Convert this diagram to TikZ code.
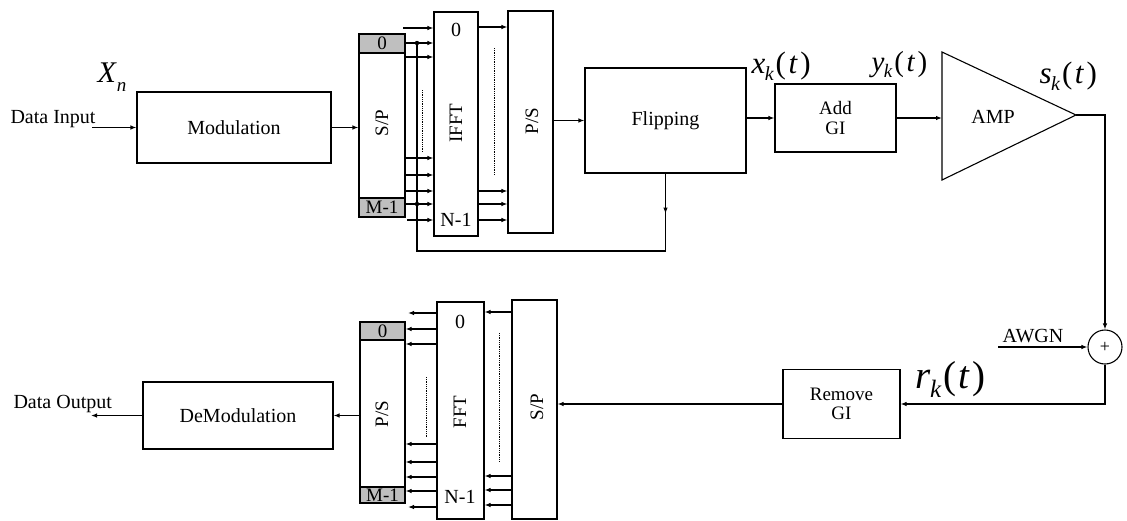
\documentclass[tikz,border=0pt]{standalone}
\usepackage{fontspec}
\setmainfont{Liberation Serif}
\usetikzlibrary{arrows.meta}
\newcommand\fsz[1]{\fontsize{#1}{#1}\selectfont}
\newcommand\sigl[5]{{\fsz{#1}\itshape #2\hspace{-0.5pt}\raisebox{-#5}{\fsz{#3}#4}\hspace{2pt}\upshape(\hspace{2.5pt}\itshape t\/\hspace{2.5pt}\upshape)}}
\begin{document}
\begin{tikzpicture}[x=1pt,y=-1pt,line width=1.1pt,
  blk/.style={draw,line width=1.1pt,inner sep=0pt,align=center,font={\fontsize{20}{20}\selectfont}},
  blk2/.style={blk,font={\fontsize{19}{19.5}\selectfont}},
  cell/.style={draw,line width=1.1pt,fill=gray!50,inner sep=0pt,font=\fsz{19}},
  arr/.style={-{Latex[length=6pt,width=4.5pt]}},
  dotl/.style={line width=0.8pt,densely dotted},
  txt/.style={inner sep=0pt,font=\fsz{20}},
  rot/.style={inner sep=0pt,font=\fsz{19},rotate=90}]
\useasboundingbox (0,0) rectangle (1127,520);
\fill[white] (0,0) rectangle (1127,520);

% ---------- transmitter ----------
\node[txt,anchor=base west] (din) at (10,123) {Data Input};
\coordinate (dinS) at (92,127.5);
\node[anchor=base west,inner sep=0pt] (Xn) at (97,82) {{\fsz{30}\itshape X\hspace{1pt}\raisebox{-9pt}{\fsz{19}n}}};
\node[blk,minimum width=194pt,minimum height=71pt] (mod) at (234,127.5) {Modulation};

\node[blk,minimum width=46pt,minimum height=183pt] (sp1) at (382,125.5) {};
\node[cell,minimum width=46pt,minimum height=19pt,anchor=north] (sp1a) at (sp1.north) {0};
\node[cell,minimum width=46pt,minimum height=19pt,anchor=south] (sp1b) at (sp1.south) {M-1};
\node[rot] (sp1t) at (382,123) {S/P};

\node[blk,minimum width=44pt,minimum height=224pt] (ifft) at (456,124) {};
\node[txt] (ifft0) at (456,30) {0};
\node[txt] (ifftN) at (456,220) {N-1};
\node[rot] (ifftt) at (456,123) {IFFT};

\node[blk,minimum width=45pt,minimum height=222pt] (ps1) at (530.5,122) {};
\node[rot] (ps1t) at (532,121) {P/S};

\node[blk,minimum width=161pt,minimum height=105pt] (flip) at (665.5,120.5) {Flipping};
\node[blk2,minimum width=121pt,minimum height=68pt] (addgi) at (835.5,118) {Add\\GI};

\coordinate (ampA) at (942,52);
\coordinate (ampB) at (942,180);
\coordinate (ampT) at (1076,115);
\draw[line width=1.1pt] (ampA) -- (ampT) -- (ampB) -- cycle;
\node[txt] (ampt) at (993,117) {AMP};

\node[anchor=base west,inner sep=0pt] (xk) at (751,73) {\sigl{31}{x}{20}{k}{7pt}};
\node[anchor=base west,inner sep=0pt] (yk) at (871,71) {\sigl{29}{y}{19}{k}{6pt}};
\node[anchor=base west,inner sep=0pt] (sk) at (1039,83) {\sigl{31}{s}{20}{k}{7pt}};

% connectors top row
\draw[arr] (dinS) -- (mod.west |- dinS);
\draw[arr] (mod.east) -- (sp1.west |- mod.east);
\coordinate (tin0) at (403,28);
\coordinate (tinN) at (407,220);
\draw[arr] (tin0) -- (ifft.west |- tin0);
\draw[arr] (tinN) -- (ifft.west |- tinN);
\foreach \yy in {43,57,158,175,191,204}
  \draw[arr] (sp1.east |- 0,\yy) -- (ifft.west |- 0,\yy);
\foreach \yy in {27,191,204,220}
  \draw[arr] (ifft.east |- 0,\yy) -- (ps1.west |- 0,\yy);
\draw[dotl] (422,90) -- (422,152);
\draw[dotl] (494,48) -- (494,175);
\draw[arr] (ps1.east |- flip.west) -- (flip.west);
\draw[arr] (flip.east |- addgi.west) -- (addgi.west);
\draw[arr] (addgi.east) -- (addgi.east -| ampA);

% feedback from flipping
\coordinate (fbA) at (665.5,251);
\coordinate (fbB) at (417,251);
\coordinate (fbC) at (417,43);
\draw (flip.south) -- (fbA) -- (fbB) -- (fbC);
\draw[arr] (flip.south) -- ++(0,40);
\fill (fbC) circle (2.2pt);
\fill (417,204) circle (2.2pt);

% channel
\node[draw,circle,line width=1.1pt,minimum size=34pt,inner sep=0pt,font=\fsz{18}] (sum) at (1105,347) {+};
\draw[arr] (ampT) -- (ampT -| sum) -- (sum.north);
\coordinate (awS) at (998,347);
\node[txt,anchor=base] (awgn) at (1033,342) {AWGN};
\draw[arr] (awS) -- (sum.west);

% ---------- receiver ----------
\node[blk2,minimum width=117pt,minimum height=69pt] (rgi) at (841.5,404) {Remove\\GI};
\draw[arr] (sum.south) -- (sum.south |- rgi.east) -- (rgi.east);
\node[anchor=base west,inner sep=0pt] (rk) at (915,388) {\sigl{39}{r}{25}{k}{9pt}};

\node[blk,minimum width=45pt,minimum height=219pt] (sp2) at (534.5,409.5) {};
\node[rot] (sp2t) at (537,407) {S/P};
\draw[arr] (rgi.west) -- (rgi.west -| sp2.east);

\node[blk,minimum width=47pt,minimum height=217pt] (fft) at (460.5,410.5) {};
\node[txt] (fft0) at (460,322) {0};
\node[txt] (fftN) at (460,497) {N-1};
\node[rot] (fftt) at (460,412) {FFT};

\node[blk,minimum width=45pt,minimum height=181pt] (ps2) at (382.5,412.5) {};
\node[cell,minimum width=45pt,minimum height=18pt,anchor=north] (ps2a) at (ps2.north) {0};
\node[cell,minimum width=45pt,minimum height=16pt,anchor=south] (ps2b) at (ps2.south) {M-1};
\node[rot] (ps2t) at (382,414) {P/S};

\foreach \yy in {312,476,490,505}
  \draw[arr] (sp2.west |- 0,\yy) -- (fft.east |- 0,\yy);
\foreach \yy in {329,344,444,462,477,491}
  \draw[arr] (fft.west |- 0,\yy) -- (ps2.east |- 0,\yy);
\coordinate (rout0) at (408,313);
\coordinate (routN) at (408,507);
\draw[arr] (fft.west |- rout0) -- (rout0);
\draw[arr] (fft.west |- routN) -- (routN);
\draw[dotl] (426,377) -- (426,437);
\draw[dotl] (499,333) -- (499,462);

\node[blk,minimum width=190pt,minimum height=67pt] (demod) at (238,415.5) {DeModulation};
\draw[arr] (ps2.west |- demod.east) -- (demod.east);
\coordinate (doutE) at (91,415.5);
\draw[arr] (demod.west) -- (doutE);
\node[txt,anchor=base west] (dout) at (13,408) {Data Output};
\end{tikzpicture}
\end{document}
